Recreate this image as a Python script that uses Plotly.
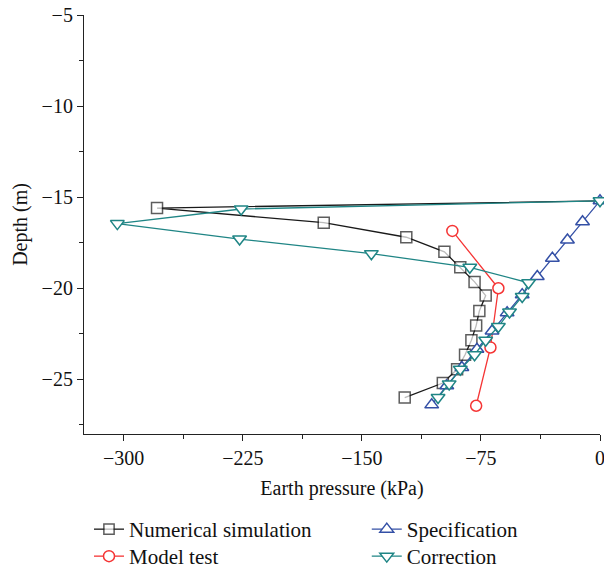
import plotly.graph_objects as go

# ---- data ----
numerical_x = [0, -279, -174, -122, -98, -88, -79, -72, -76, -78, -81, -85, -90, -99, -123]
numerical_y = [-15.2, -15.6, -16.4, -17.2, -18.0, -18.85, -19.65, -20.4, -21.25, -22.05, -22.85, -23.65, -24.45, -25.2, -26.0]

model_x = [-93, -64, -69, -78]
model_y = [-16.85, -20.0, -23.25, -26.45]

spec_x = [0, -11, -20.5, -30, -39.5, -49, -58.5, -68, -77.5, -87, -96.5, -106]
spec_y = [-15.2, -16.35, -17.35, -18.35, -19.35, -20.35, -21.35, -22.35, -23.35, -24.35, -25.35, -26.4]

corr_x = [0, -226, -304, -227, -144, -82, -45, -49, -57, -64, -72, -79, -88, -95, -102]
corr_y = [-15.2, -15.65, -16.45, -17.3, -18.1, -18.85, -19.7, -20.45, -21.3, -22.1, -22.85, -23.65, -24.45, -25.25, -26.0]

x_ticks = [-300, -225, -150, -75, 0]
y_ticks = [-5, -10, -15, -20, -25]

BLACK = "#1a1a1a"
RED = "#f53535"
BLUE = "#3450a6"
TEAL = "#1f8585"
FONT = "Liberation Serif"

fig = go.Figure()

num_sizes = [0] + [11] * (len(numerical_x) - 1)
fig.add_trace(go.Scatter(
    x=numerical_x, y=numerical_y, name="Numerical simulation", mode="lines+markers",
    line=dict(color=BLACK, width=1.3),
    marker=dict(symbol="square", size=num_sizes, color="white", line=dict(color=BLACK, width=1.5)),
    cliponaxis=False, legend="legend",
))
fig.add_trace(go.Scatter(
    x=model_x, y=model_y, name="Model test", mode="lines+markers",
    line=dict(color=RED, width=1.3),
    marker=dict(symbol="circle", size=11, color="white", line=dict(color=RED, width=1.5)),
    cliponaxis=False, legend="legend2",
))
fig.add_trace(go.Scatter(
    x=spec_x, y=spec_y, name="Specification", mode="lines+markers",
    line=dict(color=BLUE, width=1.3),
    marker=dict(symbol="triangle-up", size=12, color="white", line=dict(color=BLUE, width=1.5)),
    cliponaxis=False, legend="legend3",
))
fig.add_trace(go.Scatter(
    x=corr_x, y=corr_y, name="Correction", mode="lines+markers",
    line=dict(color=TEAL, width=1.3),
    marker=dict(symbol="triangle-down", size=12, color="white", line=dict(color=TEAL, width=1.5)),
    cliponaxis=False, legend="legend4",
))

axis_common = dict(
    showgrid=False, zeroline=False, showline=True, linecolor="#222", linewidth=1.2,
    ticks="outside", ticklen=6, tickwidth=1.2, tickcolor="#222",
    tickfont=dict(family=FONT, size=20, color="#111"),
    title_font=dict(family=FONT, size=20, color="#111"),
    automargin=False, ticklabeloverflow="allow",
)

fig.update_xaxes(
    range=[-325, 0], tickmode="array", tickvals=x_ticks,
    minor=dict(ticks="outside", ticklen=4, tickwidth=1.2, tickcolor="#222", dtick=37.5, tick0=0),
    title_text="Earth pressure (kPa)", title_standoff=12,
    **axis_common,
)
fig.update_yaxes(
    range=[-28, -5], tickmode="array", tickvals=y_ticks,
    minor=dict(ticks="outside", ticklen=4, tickwidth=1.2, tickcolor="#222", dtick=2.5, tick0=0),
    title_text="Depth (m)", title_standoff=8,
    **axis_common,
)

legend_common = dict(
    orientation="v", xanchor="left", yanchor="top",
    font=dict(family=FONT, size=21, color="#111"),
    bgcolor="rgba(0,0,0,0)", tracegroupgap=0, itemwidth=30,
)

col1, col2 = 0.0097, 0.548
row1, row2 = -0.179, -0.2434

fig.update_layout(
    width=604, height=573,
    margin=dict(l=84, r=4, t=15, b=139, autoexpand=False),
    paper_bgcolor="white", plot_bgcolor="white",
    font=dict(family=FONT, size=20, color="#111"),
    showlegend=True,
    legend=dict(x=col1, y=row1, **legend_common),
    legend2=dict(x=col1, y=row2, **legend_common),
    legend3=dict(x=col2, y=row1, **legend_common),
    legend4=dict(x=col2, y=row2, **legend_common),
)

fig.write_html("out.html", config={"displayModeBar": False},
               post_script="document.body.style.margin='0';")
